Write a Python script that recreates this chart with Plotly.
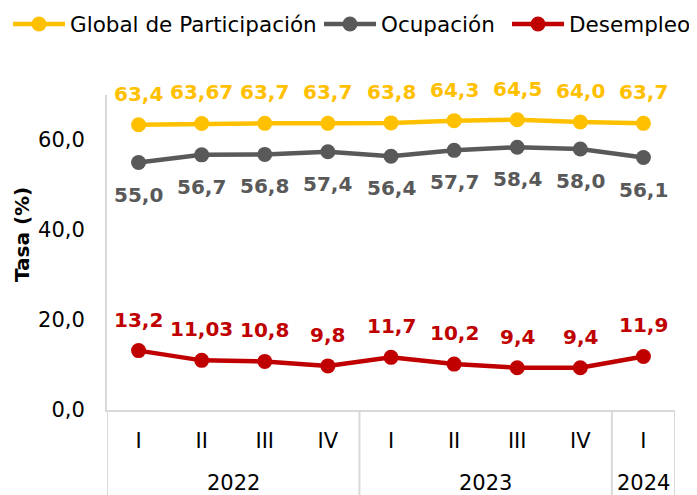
import plotly.graph_objects as go

years = ["2022", "2022", "2022", "2022", "2023", "2023", "2023", "2023", "2024"]
quarters = ["I", "II", "III", "IV", "I", "II", "III", "IV", "I"]

global_part = [63.4, 63.67, 63.7, 63.7, 63.8, 64.3, 64.5, 64.0, 63.7]
global_lbl = ["63,4", "63,67", "63,7", "63,7", "63,8", "64,3", "64,5", "64,0", "63,7"]
ocupacion = [55.0, 56.7, 56.8, 57.4, 56.4, 57.7, 58.4, 58.0, 56.1]
ocupacion_lbl = ["55,0", "56,7", "56,8", "57,4", "56,4", "57,7", "58,4", "58,0", "56,1"]
desempleo = [13.2, 11.03, 10.8, 9.8, 11.7, 10.2, 9.4, 9.4, 11.9]
desempleo_lbl = ["13,2", "11,03", "10,8", "9,8", "11,7", "10,2", "9,4", "9,4", "11,9"]

FONT = "DejaVu Sans"
GRID = "#D9D9D9"
xi = list(range(len(quarters)))

# the page body has an 8px margin; size the figure to the visible area
W, H = 689, 487
L, T, R, B = 99, 87, 22, 85
pw, ph = W - L - R, H - T - B

fig = go.Figure()
series = [
    ("Global de Participación", global_part, global_lbl, "#FFC000", 31, "legend", -11),
    ("Ocupación", ocupacion, ocupacion_lbl, "#595959", -32, "legend2", 311),
    ("Desempleo", desempleo, desempleo_lbl, "#C00000", 31, "legend3", 499),
]
annotations = []
legends = {}
for name, vals, lbl, col, shift, lg, lx in series:
    fig.add_trace(go.Scatter(
        x=xi, y=vals, name=name, mode="lines+markers",
        line=dict(color=col, width=4.5),
        marker=dict(color=col, size=15),
        cliponaxis=False, legend=lg, showlegend=True,
    ))
    legends[lg] = dict(orientation="h", x=lx / W, xref="container", xanchor="left",
                       y=1 - 16 / H, yref="container", yanchor="middle",
                       font=dict(size=21.5, color="black", family=FONT),
                       itemwidth=52, visible=True)
    for xv, yv, t in zip(xi, vals, lbl):
        annotations.append(dict(
            x=xv, y=yv, xref="x", yref="y", text=t, showarrow=False,
            yshift=shift, xanchor="center", yanchor="middle",
            font=dict(family=FONT, size=20, color=col, weight="bold"),
        ))

# year group labels and dividers
groups = []
for i, yr in enumerate(years):
    if not groups or groups[-1][0] != yr:
        groups.append([yr, i, i])
    else:
        groups[-1][2] = i
shapes = []
bounds = [groups[0][1] - 0.5] + [g[2] + 0.5 for g in groups]
for b in bounds:
    shapes.append(dict(type="line", xref="x", yref="paper", x0=b, x1=b,
                       y0=0, y1=-B / ph, line=dict(color=GRID, width=2)))
for yr, a, b in groups:
    annotations.append(dict(
        x=(a + b) / 2, y=-73 / ph, xref="x", yref="paper", text=yr,
        showarrow=False, xanchor="center", yanchor="middle",
        font=dict(family=FONT, size=21, color="black"),
    ))
annotations.append(dict(
    x=(14 - L) / pw, y=(H - B - 227) / ph, xref="paper", yref="paper",
    text="<b>Tasa (%)</b>",
    showarrow=False, textangle=-90, xanchor="center", yanchor="middle",
    font=dict(family=FONT, size=20, color="black"),
))

fig.update_layout(
    width=W, height=H,
    margin=dict(l=L, r=R, t=T, b=B, autoexpand=False),
    paper_bgcolor="white", plot_bgcolor="white",
    font=dict(family=FONT, size=21, color="black"),
    showlegend=True,
    xaxis=dict(range=[-0.5, len(quarters) - 0.5], tickvals=xi, ticktext=quarters,
               showgrid=False, showline=True, linecolor=GRID, linewidth=2,
               zeroline=False, ticks="outside", ticklen=0, ticklabelstandoff=11,
               tickfont=dict(size=21, color="black", family=FONT), automargin=False),
    yaxis=dict(range=[0, 70], tickvals=[0, 20, 40, 60],
               ticktext=["0,0", "20,0", "40,0", "60,0"],
               showgrid=False, showline=True, linecolor=GRID, linewidth=2,
               zeroline=False, ticks="outside", ticklen=0, ticklabelstandoff=16,
               tickfont=dict(size=21, color="black", family=FONT), automargin=False),
    annotations=annotations,
    shapes=shapes,
    **legends,
)

fig.write_html("out.html")
